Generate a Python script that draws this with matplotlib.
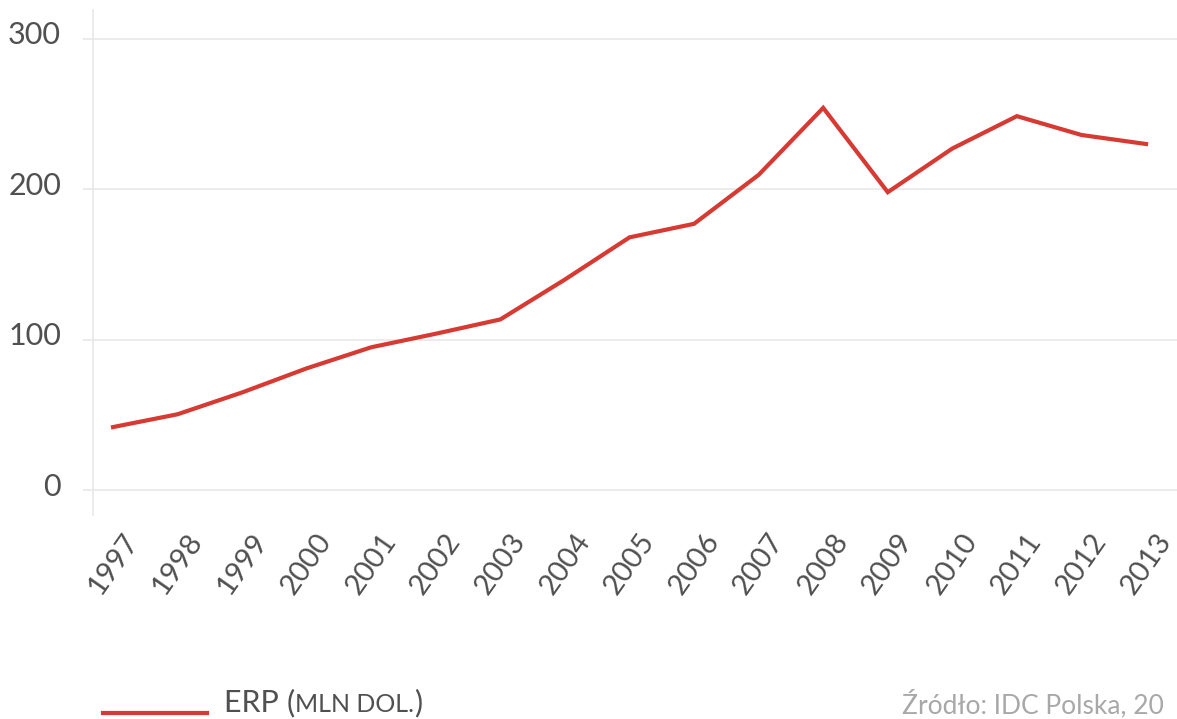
"""ERP market value in Poland, 1997-2013"""

import matplotlib
matplotlib.use('Agg')
import matplotlib.pyplot as plt
import matplotlib.transforms as mtransforms

# Data
years = [1997, 1998, 1999, 2000, 2001, 2002, 2003, 2004, 2005,
         2006, 2007, 2008, 2009, 2010, 2011, 2012, 2013]
erp_values = [42, 50.5, 65, 81, 95, 104, 113.5, 140, 168,
              177, 209.5, 254, 198, 227, 248.5, 236, 230]
y_ticks = [0, 100, 200, 300]

LINE_COLOR = '#d63a33'
TEXT_COLOR = '#505050'
GRID_COLOR = '#e8e8e8'

plt.rcParams['font.family'] = ['Lato', 'DejaVu Sans']

fig = plt.figure(figsize=(11.77, 7.19), dpi=100)
ax = fig.add_axes([93 / 1177, (719 - 515) / 719, 1 - 93 / 1177, (515 - 10) / 719])

ax.plot(years, erp_values, color=LINE_COLOR, linewidth=3, solid_joinstyle='miter')

ax.set_xlim(1996.69, 2013.48)
ax.set_ylim(-16.4, 319)
ax.set_yticks(y_ticks)
ax.set_xticks(years)
ax.set_xticklabels([str(y) for y in years], rotation=55, ha='center', va='top',
                   fontsize=21, color=TEXT_COLOR)
ax.tick_params(axis='x', length=0, pad=10)
ax.tick_params(axis='y', length=7, width=1.2, color=GRID_COLOR, pad=16,
               labelsize=22, labelcolor=TEXT_COLOR)
for lbl in ax.get_yticklabels():
    lbl.set_transform(lbl.get_transform() +
                      mtransforms.ScaledTranslation(0, 6 / 100, fig.dpi_scale_trans))

ax.grid(axis='y', color=GRID_COLOR, linewidth=1.2)
ax.set_axisbelow(True)
for side in ['top', 'right', 'bottom']:
    ax.spines[side].set_visible(False)
ax.spines['left'].set_color(GRID_COLOR)
ax.spines['left'].set_linewidth(1.2)

# Legend drawn by hand at the bottom (small caps faked with a smaller size)
fig.add_artist(plt.Line2D([103 / 1177, 207 / 1177], [1 - 713 / 719, 1 - 713 / 719],
                          color=LINE_COLOR, linewidth=3))
fig.canvas.draw()
renderer = fig.canvas.get_renderer()
x_pos = 224 / 1177
base_y = 1 - 712 / 719
for txt, size in [('ERP ', 22), ('(', 22), ('MLN DOL.', 18), (')', 22)]:
    t = fig.text(x_pos, base_y, txt, fontsize=size,
                 color=TEXT_COLOR, va='baseline', ha='left')
    bb = t.get_window_extent(renderer)
    x_pos += bb.width / fig.bbox.width

fig.text(902 / 1177, 1 - 718 / 719, 'Źródło: IDC Polska, 20', fontsize=19,
         color='#a8a8a8', va='bottom', ha='left')

fig.savefig('out.png', dpi=100)
